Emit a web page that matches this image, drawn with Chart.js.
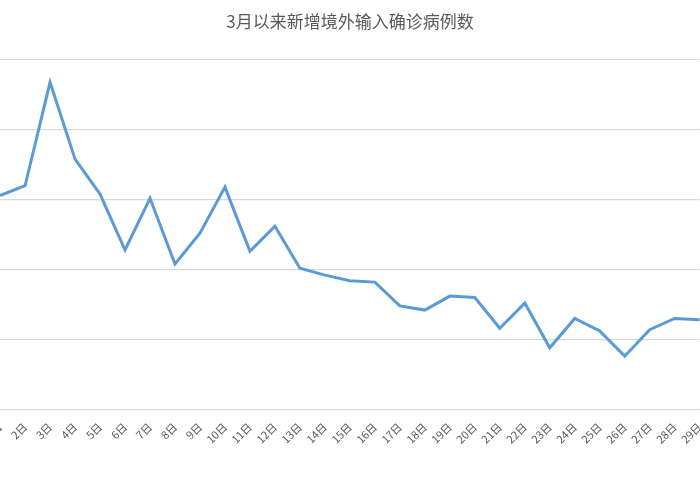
<!DOCTYPE html><html><head><meta charset="utf-8">
<script src="https://cdn.jsdelivr.net/npm/chart.js@4"></script>
<style>html,body{margin:0;padding:0;overflow:hidden;background:#fff;width:700px;height:500px}
#wrap{position:absolute;left:-15px;top:0;width:727px;height:500px}
#t{position:absolute;left:0;top:8px;width:700px;text-align:center;font:17px 'Noto Sans CJK SC';color:#595959}</style></head><body>
<div id="wrap"><canvas id="c"></canvas></div>
<div id="t">3月以来新增境外输入确诊病例数</div>
<script>
const days = ['1日','2日','3日','4日','5日','6日','7日','8日','9日','10日','11日','12日','13日','14日','15日','16日','17日','18日','19日','20日','21日','22日','23日','24日','25日','26日','27日','28日','29日'];
const cases = [153,160,234,179,154,114,151,104,126,159,113,131,101,96,92,91,74,71,81,80,58,76,44,65,56,38,57,65,64];
new Chart(document.getElementById('c'),{type:'line',
data:{labels:days,datasets:[{data:cases,borderColor:'#5b9bd5',borderWidth:3,pointRadius:0,tension:0,fill:false}]},
options:{responsive:true,maintainAspectRatio:false,animation:false,
layout:{padding:{left:0,right:5,top:60,bottom:51}},
plugins:{legend:{display:false},tooltip:{enabled:false}},
scales:{x:{offset:false,grid:{display:false},border:{display:false},
ticks:{autoSkip:false,maxRotation:45,minRotation:45,color:'#595959',font:{size:11,family:'Noto Sans CJK SC'}}},
y:{min:0,max:250,ticks:{display:false,stepSize:50},grid:{color:'#d9d9d9',lineWidth:1.3,drawTicks:false},border:{display:false}}}}});
</script></body></html>
